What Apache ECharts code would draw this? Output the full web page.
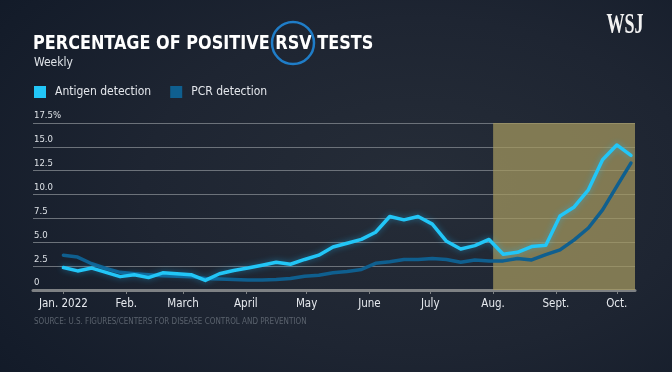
<!DOCTYPE html>
<html>
<head>
<meta charset="utf-8">
<script src="https://cdn.jsdelivr.net/npm/echarts@6/dist/echarts.min.js"></script>
<style>
  html, body { margin: 0; padding: 0; width: 672px; height: 372px; overflow: hidden; }
  body { background: radial-gradient(ellipse 90% 100% at 62% 50%, #262d38 0%, #1e2532 45%, #141c2a 80%, #0e1725 100%); }
  #chart { width: 672px; height: 372px; }
</style>
</head>
<body>
<div id="chart"></div>
<script>
// ---- Data ----
const weeks = [
  '2022-01-01','2022-01-08','2022-01-15','2022-01-22','2022-01-29',
  '2022-02-05','2022-02-12','2022-02-19','2022-02-26',
  '2022-03-05','2022-03-12','2022-03-19','2022-03-26',
  '2022-04-02','2022-04-09','2022-04-16','2022-04-23','2022-04-30',
  '2022-05-07','2022-05-14','2022-05-21','2022-05-28',
  '2022-06-04','2022-06-11','2022-06-18','2022-06-25',
  '2022-07-02','2022-07-09','2022-07-16','2022-07-23','2022-07-30',
  '2022-08-06','2022-08-13','2022-08-20','2022-08-27',
  '2022-09-03','2022-09-10','2022-09-17','2022-09-24',
  '2022-10-01','2022-10-08'
];
const antigen = [2.35, 2.0, 2.3, 1.85, 1.4, 1.6, 1.3, 1.8, 1.7, 1.6, 1.0, 1.7, 2.05, 2.3, 2.6, 2.9, 2.7, 3.2, 3.65, 4.5, 4.9, 5.3, 6.05, 7.7, 7.35, 7.7, 6.9, 5.1, 4.3, 4.65, 5.3, 3.75, 3.95, 4.55, 4.7, 7.75, 8.7, 10.5, 13.65, 15.2, 14.1];
const pcr = [3.65, 3.45, 2.75, 2.25, 1.85, 1.7, 1.6, 1.5, 1.45, 1.4, 1.2, 1.15, 1.1, 1.05, 1.05, 1.1, 1.2, 1.45, 1.55, 1.8, 1.95, 2.15, 2.8, 2.95, 3.2, 3.2, 3.3, 3.2, 2.9, 3.15, 3.05, 3.05, 3.3, 3.15, 3.7, 4.2, 5.25, 6.5, 8.4, 10.85, 13.3];
const seriesNames = ['Antigen detection', 'PCR detection'];
const monthStarts = ['2022-01-01','2022-02-01','2022-03-01','2022-04-01','2022-05-01','2022-06-01','2022-07-01','2022-08-01','2022-09-01','2022-10-01'];
const monthLabels = ['Jan. 2022','Feb.','March','April','May','June','July','Aug.','Sept.','Oct.'];
const yTickValues = [0, 2.5, 5.0, 7.5, 10.0, 12.5, 15.0, 17.5];
const shadeRange = ['2022-08-01', '2022-10-10'];
const xRange = ['2021-12-17', '2022-10-10'];
const titleText = 'PERCENTAGE OF POSITIVE RSV TESTS';
const subtitleText = 'Weekly';
const sourceText = 'SOURCE: U.S. FIGURES/CENTERS FOR DISEASE CONTROL AND PREVENTION';

// ---- Helpers: dates -> day number since 2022-01-01 (value axis) ----
const EPOCH = Date.UTC(2022, 0, 1);
function day(s) { const p = s.split('-').map(Number); return Math.round((Date.UTC(p[0], p[1] - 1, p[2]) - EPOCH) / 86400000); }
const monthDays = monthStarts.map(day);
const FONT = "'Liberation Sans Narrow', 'DejaVu Sans Condensed', Roboto, sans-serif";

const chart = echarts.init(document.getElementById('chart'), null, { renderer: 'canvas' });
const option = {
  animation: false,
  backgroundColor: 'transparent',
  grid: { left: 33, right: 37, top: 123, bottom: 82, containLabel: false },
  legend: {
    data: seriesNames,
    left: 34, top: 86, padding: 0,
    icon: 'rect', itemWidth: 12, itemHeight: 12, itemGap: 19,
    textStyle: { color: '#e4e7ec', fontSize: 12, fontFamily: FONT, padding: [0, 0, 0, 4] },
    selectedMode: false
  },
  xAxis: {
    type: 'value',
    min: day(xRange[0]), max: day(xRange[1]),
    splitLine: { show: false },
    axisLine: { show: true, lineStyle: { color: '#7e8184', width: 3 } },
    axisTick: { show: true, length: 4, lineStyle: { color: '#7e8184', width: 1 }, customValues: monthDays },
    axisLabel: {
      customValues: monthDays,
      color: '#e6e9ee', fontSize: 11.5, fontFamily: FONT, margin: 8,
      formatter: function (v) { const i = monthDays.indexOf(v); return i >= 0 ? monthLabels[i] : ''; }
    }
  },
  yAxis: {
    type: 'value', min: yTickValues[0], max: yTickValues[yTickValues.length - 1], interval: 2.5,
    axisLine: { show: false }, axisTick: { show: false },
    splitLine: { show: true, lineStyle: { color: '#6c727a', width: 1 } },
    axisLabel: {
      inside: true, margin: 1, align: 'left', verticalAlign: 'bottom', padding: [0, 0, 2, 0],
      color: '#dde1e6', fontSize: 9.5, fontFamily: FONT, showMinLabel: true, showMaxLabel: true,
      formatter: function (v) {
        if (v === yTickValues[yTickValues.length - 1]) return v.toFixed(1) + '%';
        if (v === 0) return '0';
        return v.toFixed(1);
      }
    }
  },
  series: [
    {
      name: 'shade', type: 'line', data: [], z: 1, silent: true,
      markArea: {
        silent: true,
        itemStyle: { color: 'rgba(166,154,96,0.72)' },
        data: [[{ xAxis: day(shadeRange[0]) }, { xAxis: day(shadeRange[1]) }]]
      }
    },
    {
      name: seriesNames[1], type: 'line', z: 3,
      data: weeks.map((w, i) => [day(w), pcr[i]]),
      symbol: 'none', smooth: false,
      itemStyle: { color: '#0f5f8f' },
      lineStyle: { color: '#0f5f8f', width: 3.5, join: 'round', cap: 'round' }
    },
    {
      name: seriesNames[0], type: 'line', z: 4,
      data: weeks.map((w, i) => [day(w), antigen[i]]),
      symbol: 'none', smooth: false,
      itemStyle: { color: '#22c6f7' },
      lineStyle: { color: '#22c6f7', width: 3.5, join: 'round', cap: 'round', shadowColor: 'rgba(30,190,255,0.45)', shadowBlur: 6 }
    }
  ],
  graphic: [
    { type: 'text', x: 33, y: 44, scaleX: 0.94, style: { text: titleText, fill: '#ffffff', font: 'bold 19px ' + FONT, textAlign: 'left', textVerticalAlign: 'middle' } },
    { type: 'circle', shape: { cx: 293, cy: 43, r: 21 }, style: { fill: 'none', stroke: '#1f7dc8', lineWidth: 2.5 } },
    { type: 'text', x: 34, y: 63, style: { text: subtitleText, fill: '#dfe3e8', font: '12px ' + FONT, textAlign: 'left', textVerticalAlign: 'middle' } },
    { type: 'text', x: 625, y: 25, scaleX: 0.6, style: { text: 'WSJ', fill: '#f2f2f2', font: 'bold 30px "Liberation Serif", "DejaVu Serif", serif', textAlign: 'center', textVerticalAlign: 'middle' } },
    { type: 'text', x: 34, y: 322, style: { text: sourceText, fill: '#5a626d', font: '8px ' + FONT, textAlign: 'left', textVerticalAlign: 'middle' } }
  ]
};
chart.setOption(option);
</script>
</body>
</html>
